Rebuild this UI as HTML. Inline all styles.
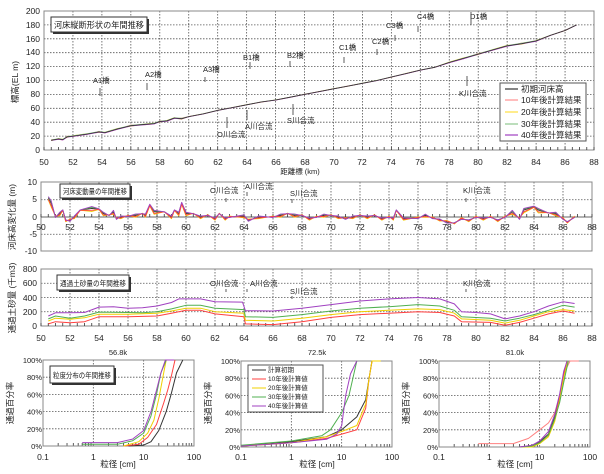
<!DOCTYPE html>
<html><head><meta charset="utf-8">
<style>
html,body{margin:0;padding:0;background:#fff;}
svg{display:block;font-family:"Liberation Sans","Noto Sans CJK JP",sans-serif;}
.t{font-size:8.5px;fill:#222;}
.s{font-size:7.5px;fill:#222;}
.g{stroke:#555;stroke-width:0.8;stroke-dasharray:1.5,1.5;fill:none;}
.f{stroke:#888;stroke-width:1;fill:none;}
.k{stroke:#333;stroke-width:0.8;}
</style></head>
<body>
<svg id="c" width="604" height="474" viewBox="0 0 604 474" xmlns="http://www.w3.org/2000/svg">
<rect width="604" height="474" fill="#fff"/>
<g id="grid"></g>
<g id="data"></g>

<!-- Chart 1 labels -->
<g class="t" text-anchor="end">
<text x="40" y="153">0</text><text x="40" y="139">20</text><text x="40" y="125">40</text><text x="40" y="111">60</text><text x="40" y="97">80</text><text x="40" y="83">100</text><text x="40" y="69">120</text><text x="40" y="55">140</text><text x="40" y="42">160</text><text x="40" y="28">180</text><text x="40" y="14">200</text>
</g>
<g class="t" text-anchor="middle">
<text x="44" y="165">50</text><text x="73" y="165">52</text><text x="102" y="165">54</text><text x="131" y="165">56</text><text x="160" y="165">58</text><text x="189" y="165">60</text><text x="218" y="165">62</text><text x="247" y="165">64</text><text x="276" y="165">66</text><text x="305" y="165">68</text><text x="334" y="165">70</text><text x="362" y="165">72</text><text x="391" y="165">74</text><text x="420" y="165">76</text><text x="449" y="165">78</text><text x="478" y="165">80</text><text x="507" y="165">82</text><text x="536" y="165">84</text><text x="565" y="165">86</text><text x="594" y="165">88</text>
<text x="300" y="174" class="s">距離標 (km)</text>
</g>
<text class="t" transform="translate(18,82) rotate(-90)" text-anchor="middle">標高(EL m)</text>
<rect x="53" y="19" width="96" height="15" fill="#333"/>
<rect x="51" y="17" width="96" height="15" fill="#fff" stroke="#333"/>
<text x="54" y="28" class="t" textLength="90" lengthAdjust="spacingAndGlyphs">河床縦断形状の年間推移</text>
<g class="s">
<text x="93" y="83">A1橋</text><text x="145" y="77">A2橋</text><text x="203" y="72">A3橋</text><text x="243" y="60">B1橋</text><text x="287" y="58">B2橋</text>
<text x="339" y="50">C1橋</text><text x="372" y="44">C2橋</text><text x="386" y="28">C3橋</text><text x="417" y="19">C4橋</text><text x="470" y="19">D1橋</text>
<text x="217" y="137">O川合流</text><text x="245" y="129">A川合流</text><text x="287" y="123">S川合流</text><text x="459" y="96">K川合流</text>
</g>
<g class="k">
<line x1="100" y1="88" x2="100" y2="96"/><line x1="147" y1="83" x2="147" y2="90"/><line x1="205" y1="77" x2="205" y2="82"/><line x1="250" y1="62" x2="250" y2="69"/><line x1="290" y1="61" x2="290" y2="67"/>
<line x1="344" y1="57" x2="344" y2="63"/><line x1="377" y1="49" x2="377" y2="55"/><line x1="395" y1="35" x2="395" y2="41"/><line x1="418" y1="26" x2="418" y2="32"/><line x1="471" y1="12" x2="471" y2="25"/>
<line x1="227" y1="117" x2="227" y2="128"/><line x1="247" y1="110" x2="247" y2="120"/><line x1="293" y1="104" x2="293" y2="115"/><line x1="467" y1="76" x2="467" y2="86"/>
</g>
<rect x="500" y="83" width="86" height="58" fill="#fff" stroke="#555"/>
<g stroke-width="1.2">
<line x1="505" y1="89" x2="518" y2="89" stroke="#333"/>
<line x1="505" y1="100" x2="518" y2="100" stroke="#ff9090"/>
<line x1="505" y1="112" x2="518" y2="112" stroke="#ffe040"/>
<line x1="505" y1="124" x2="518" y2="124" stroke="#90c890"/>
<line x1="505" y1="135" x2="518" y2="135" stroke="#a040c0"/>
</g>
<g class="t">
<text x="521" y="92">初期河床高</text><text x="521" y="103">10年後計算結果</text><text x="521" y="115">20年後計算結果</text><text x="521" y="127">30年後計算結果</text><text x="521" y="138">40年後計算結果</text>
</g>

<!-- Chart 2 labels -->
<g class="t" text-anchor="end">
<text x="37" y="185">10</text><text x="37" y="202">5</text><text x="37" y="220">0</text><text x="37" y="237">-5</text><text x="37" y="254">-10</text>
</g>
<g class="t" text-anchor="middle" id="x2"></g>
<text class="t" transform="translate(15,217) rotate(-90)" text-anchor="middle">河床高変化量 (m)</text>
<rect x="62" y="186" width="70" height="14" fill="#333"/>
<rect x="60" y="184" width="70" height="14" fill="#fff" stroke="#333"/>
<text x="63" y="194" class="s" textLength="64" lengthAdjust="spacingAndGlyphs">河床変動量の年間推移</text>
<g class="s">
<text x="210" y="193">O川合流</text><text x="245" y="189">A川合流</text><text x="290" y="196">S川合流</text><text x="463" y="193">K川合流</text>
<text x="210" y="286">O川合流</text><text x="250" y="286">A川合流</text><text x="290" y="294">S川合流</text><text x="463" y="286">K川合流</text>
</g>
<g class="k">
<line x1="226" y1="198" x2="226" y2="202"/><line x1="247" y1="192" x2="247" y2="196"/><line x1="292" y1="199" x2="292" y2="203"/><line x1="466" y1="198" x2="466" y2="202"/>
<line x1="226" y1="289" x2="226" y2="292"/><line x1="247" y1="289" x2="247" y2="292"/><line x1="292" y1="296" x2="292" y2="299"/><line x1="466" y1="289" x2="466" y2="292"/>
</g>

<!-- Chart 3 labels -->
<g class="t" text-anchor="end">
<text x="37" y="329">0</text><text x="37" y="315">200</text><text x="37" y="301">400</text><text x="37" y="286">600</text><text x="37" y="272">800</text>
</g>
<text class="t" transform="translate(15,298) rotate(-90)" text-anchor="middle">通過土砂量 (千m3)</text>
<rect x="59" y="277" width="72" height="15" fill="#333"/>
<rect x="57" y="275" width="72" height="15" fill="#fff" stroke="#333"/>
<text x="60" y="286" class="s" textLength="66" lengthAdjust="spacingAndGlyphs">通過土砂量の年間推移</text>

<!-- bottom -->
<g class="s" text-anchor="middle">
<text x="118" y="355">56.8k</text><text x="317" y="355">72.5k</text><text x="515" y="355">81.0k</text>
</g>
<g class="t" text-anchor="middle">
<text x="118" y="467">粒径 [cm]</text><text x="317" y="467">粒径 [cm]</text><text x="515" y="467">粒径 [cm]</text>
</g>
<text class="t" transform="translate(13,403) rotate(-90)" text-anchor="middle">通過百分率</text>
<text class="t" transform="translate(211,403) rotate(-90)" text-anchor="middle">通過百分率</text>
<text class="t" transform="translate(409,403) rotate(-90)" text-anchor="middle">通過百分率</text>
<g id="bl" class="s"></g>
<rect x="52" y="368" width="64" height="17" fill="#333"/>
<rect x="50" y="366" width="64" height="17" fill="#fff" stroke="#333"/>
<text x="53" y="378" class="s" textLength="58" lengthAdjust="spacingAndGlyphs">粒度分布の年間推移</text>
<rect x="248" y="365" width="75" height="47" fill="#fff" stroke="#555"/>
<g stroke-width="1">
<line x1="252" y1="370" x2="266" y2="370" stroke="#333"/>
<line x1="252" y1="379" x2="266" y2="379" stroke="#ff4040"/>
<line x1="252" y1="388" x2="266" y2="388" stroke="#f0d000"/>
<line x1="252" y1="397" x2="266" y2="397" stroke="#50b050"/>
<line x1="252" y1="406" x2="266" y2="406" stroke="#a040c0"/>
</g>
<g style="font-size:6.5px" fill="#222">
<text x="268" y="372">計算初期</text><text x="268" y="381">10年後計算値</text><text x="268" y="390">20年後計算値</text><text x="268" y="399">30年後計算値</text><text x="268" y="408">40年後計算値</text>
</g>
</svg>
<script>
(function(){
var NS="http://www.w3.org/2000/svg";
var grid=document.getElementById('grid'),data=document.getElementById('data');
function el(p,tag,a){var e=document.createElementNS(NS,tag);for(var k in a)e.setAttribute(k,a[k]);p.appendChild(e);return e;}
function line(p,x1,y1,x2,y2,c){return el(p,'line',{x1:x1,y1:y1,x2:x2,y2:y2,'class':c});}
function poly(p,pts,col,w){el(p,'polyline',{points:pts.map(function(q){return q[0].toFixed(1)+','+q[1].toFixed(1);}).join(' '),fill:'none',stroke:col,'stroke-width':w||1,'stroke-linejoin':'round'});}
function lin(L,R,T,B,hs,vs){
 el(grid,'rect',{x:L,y:T,width:R-L,height:B-T,fill:'#fff'});
 for(var i=0;i<hs.length;i++)line(grid,L,hs[i],R,hs[i],'g');
 for(var i=0;i<vs.length;i++)line(grid,vs[i],T,vs[i],B,'g');
 el(grid,'rect',{x:L,y:T,width:R-L,height:B-T,'class':'f'});
}
var X1=function(k){return 44+(k-50)*14.474;},Y1=function(v){return 150-v*0.695;};
var hs=[],vs=[];for(var v=20;v<200;v+=20)hs.push(Y1(v));for(var k=52;k<88;k+=2)vs.push(X1(k));
lin(44,594,11,150,hs,vs);
for(var k=50;k<=88;k+=0.5)line(grid,X1(k),150,X1(k),147,'k');
var X2=function(k){return 41+(k-50)*14.5;},Y2=function(v){return 217-v*3.45;};
hs=[Y2(5),Y2(-5)];vs=[];for(var k=52;k<88;k+=2)vs.push(X2(k));
lin(41,592,182,251,hs,vs);
line(grid,41,217,592,217,'k');
for(var k=50;k<=88;k+=0.5)line(grid,X2(k),217,X2(k),214,'k');
var x2=document.getElementById('x2');
for(var k=50;k<=88;k+=2){var t=el(x2,'text',{x:X2(k),y:230});t.textContent=k;}
var Y3=function(v){return 326-v*0.0713;};
hs=[Y3(200),Y3(400),Y3(600)];
lin(41,592,269,326,hs,vs);
for(var k=50;k<=88;k+=0.5)line(grid,X2(k),326,X2(k),323,'k');
for(var k=50;k<=88;k+=2){var t=el(x2,'text',{x:X2(k),y:341});t.textContent=k;}
var prof=[[50.5,14],[51,16],[51.3,15],[51.6,19],[52,20],[53,23],[53.8,26],[54.2,25],[55,30],[56,35],[57,37],[57.6,38],[58,41],[58.5,42],[59,46],[59.5,45],[60,48],[61,52],[62,57],[63,61],[64,65],[65,69],[66,72],[67,76],[68,80],[69,84],[70,88],[71,92],[72,96],[73,100],[74,105],[75,110],[76,115],[77,119],[78,126],[79,132],[80,138],[81,144],[82,150],[83,153],[84,157],[85,165],[86,172],[86.8,180]];
var cols1=['#ff9090','#ffe040','#90c890','#a040c0','#333'];
var off=[[0.5,-0.3],[-0.4,0.3],[0.3,0.2],[-0.2,-0.3],[0,0]];
for(var c=0;c<5;c++){poly(data,prof.map(function(p,i){var d=(i%3==0?off[c][0]:off[c][1])*(p[0]<60||(p[0]>77&&p[0]<85)?2:0.5);return [X1(p[0]),Y1(p[1]+d)];}),cols1[c],0.8);}
var b=[[50.5,5.5],[50.7,4],[51,0],[51.3,1],[51.5,2],[51.7,-1],[52,-1],[52.3,0],[52.7,2],[53.5,2.5],[54,2.3],[54.3,1],[54.7,0.5],[55,1.5],[55.2,-0.5],[55.5,0],[56,0.3],[56.5,0.5],[57,1],[57.2,0.5],[57.5,3.5],[57.8,1.5],[58.5,1.5],[59,0],[59.2,2],[59.5,1],[59.7,4],[60,1],[60.5,1],[61,0],[61.5,0.5],[62,-0.5],[62.3,1],[62.7,-0.5],[63,0],[64,0.3],[64.3,-1],[65,0],[66,0],[66.5,0.5],[67,1],[67.5,0.5],[68,0.5],[68.5,-0.5],[69,0],[69.5,0.5],[70,0.5],[70.5,0],[71,-0.5],[71.5,0],[72,0.5],[72.5,0],[73,0.5],[73.5,-0.5],[74,0],[74.3,-0.5],[74.5,2],[75,-0.5],[76,-0.3],[76.5,0.5],[77,-0.3],[77.5,-0.8],[78,-1.5],[78.5,-1.8],[79,-0.5],[79.5,-1],[80,0],[80.5,-0.5],[81,0],[81.5,-1],[82,0],[82.5,1.5],[83,-0.5],[83.3,2],[84,3],[84.3,2],[85,1.2],[85.5,1],[86,-0.5],[86.3,-1.5],[86.8,0]];
var cols2=['#333','#50b050','#f0d000','#ff4040','#a040c0'];
var sc=[1,1.05,0.85,0.9,1.1],sh=[0,0.2,-0.5,-0.3,0.3];
for(var c=0;c<5;c++){poly(data,b.map(function(p,i){var v=p[1]*sc[c]+sh[c]*((i%2)?1:-0.5);return [X2(p[0]),Y2(v)];}),cols2[c],0.9);}
var pur=[[50.5,140],[51,185],[52,185],[53,190],[54,265],[55,270],[56,250],[57,255],[58,280],[59,330],[59.5,380],[61,380],[62,340],[63.9,335],[64.1,215],[66,210],[68,250],[70,300],[72,350],[74,380],[76,400],[77.5,380],[78.5,310],[79,200],[80,190],[81,170],[82,100],[83,140],[84,200],[85,280],[86,340],[86.8,315]];
var grn=[[50.5,100],[51,140],[52,110],[53,140],[54,195],[56,190],[57,185],[58,200],[59,240],[60,290],[61,290],[62,250],[64,230],[64.1,130],[66,120],[68,160],[70,210],[72,250],[74,270],[76,300],[77.5,280],[78.5,220],[79,130],[81,110],[82,70],[83,110],[84,160],[85,220],[86,290],[86.8,265]];
var yel=[[50.5,70],[51,110],[52,95],[53,115],[54,165],[56,165],[58,180],[59,210],[60,250],[61,250],[62,200],[64,180],[64.1,80],[66,70],[68,110],[70,160],[72,200],[74,220],[76,240],[77.5,230],[78.5,180],[79,100],[81,80],[82,40],[83,80],[84,140],[85,200],[86,230],[86.8,210]];
var red=[[50.5,30],[51,60],[52,45],[53,60],[54,130],[56,130],[58,140],[59,180],[60,220],[61,220],[62,170],[64,130],[64.1,30],[66,20],[68,60],[70,120],[72,160],[74,180],[76,200],[77.5,190],[78.5,140],[79,60],[81,50],[82,10],[83,50],[84,110],[85,170],[86,210],[86.8,180]];
[[red,'#ff4040'],[yel,'#f0d000'],[grn,'#50b050'],[pur,'#a040c0']].forEach(function(s){poly(data,s[0].map(function(p){return [X2(p[0]),Y3(p[1])];}),s[1],1);});
var bl=document.getElementById('bl');
function logc(L,T,B,sets){
 var W=151,R=L+W;var X=function(d){return L+(Math.log(d)/Math.LN10+1)*W/3;},Y=function(p){return B-p*(B-T)/100;};
 el(grid,'rect',{x:L,y:T,width:W,height:B-T,fill:'#fff'});
 for(var p=20;p<100;p+=20)line(grid,L,Y(p),R,Y(p),'g');
 line(grid,X(1),T,X(1),B,'g');line(grid,X(10),T,X(10),B,'g');
 for(var e=-1;e<2;e++)for(var m=2;m<10;m++)line(grid,X(m*Math.pow(10,e)),B,X(m*Math.pow(10,e)),B-3,'k');
 el(grid,'rect',{x:L,y:T,width:W,height:B-T,'class':'f'});
 for(var p=0;p<=100;p+=20){var t=el(bl,'text',{x:L-1,y:Y(p)+3,'text-anchor':'end'});t.textContent=p+'%';}
 [['0.1',0.1],['1',1],['10',10],['100',100]].forEach(function(a){var t=el(bl,'text',{x:X(a[1]),y:460,'text-anchor':'middle','style':'font-size:8.5px'});t.textContent=a[0];});
 sets.forEach(function(s){poly(data,s[0].map(function(q){return [X(q[0]),Y(q[1])];}),s[1],1);});
}
var K='#333',R_='#ff4040',Yc='#f0d000',G='#50b050',P='#a040c0';
logc(43,360,446,[
 [[[5,0],[10,1],[14,5],[20,18],[28,40],[35,60],[45,85],[60,100]],K],
 [[[4,0],[8,2],[12,10],[18,25],[25,50],[30,65],[35,80],[42,100]],R_],
 [[[4,0],[8,5],[12,15],[16,30],[20,55],[25,85],[28,100]],Yc],
 [[[0.6,2],[3,2],[6,6],[10,15],[14,35],[18,60],[22,85],[28,100]],G],
 [[[0.6,4],[3,4],[6,8],[10,18],[14,40],[18,65],[22,85],[27,100],[40,100]],P]]);
logc(241,361,447,[
 [[[0.1,1],[1,6],[5,12],[10,20],[20,35],[30,55],[35,80],[40,100]],K],
 [[[0.1,1],[1,5],[5,10],[10,15],[20,20],[30,45],[35,80],[40,100]],R_],
 [[[0.1,1],[1,5],[5,12],[10,18],[20,25],[30,50],[35,80],[40,100],[60,100]],Yc],
 [[[0.1,2],[1,7],[4,13],[6,20],[10,40],[14,60],[20,100]],G],
 [[[0.1,1],[1,5],[5,9],[8,15],[10,25],[12,60],[15,85],[20,100]],P]]);
logc(439,361,447,[
 [[[0.6,4],[3,4],[6,10],[10,20],[15,28],[20,40],[25,60],[30,85],[40,100],[60,100]],'#ff8080'],
 [[[4,0],[7,1],[10,6],[15,15],[20,35],[25,60],[30,85],[35,100]],K],
 [[[4,0],[7,1],[10,5],[15,14],[20,32],[25,58],[30,85],[35,100]],R_],
 [[[4,0],[7,0],[10,4],[15,12],[20,30],[25,55],[30,80],[36,100]],Yc],
 [[[4,0],[7,1],[10,5],[15,14],[20,33],[25,52],[30,75],[37,100]],G],
 [[[4,0],[7,2],[10,7],[15,18],[20,38],[25,62],[30,88],[35,100]],P]]);
})();
</script>
</body></html>
